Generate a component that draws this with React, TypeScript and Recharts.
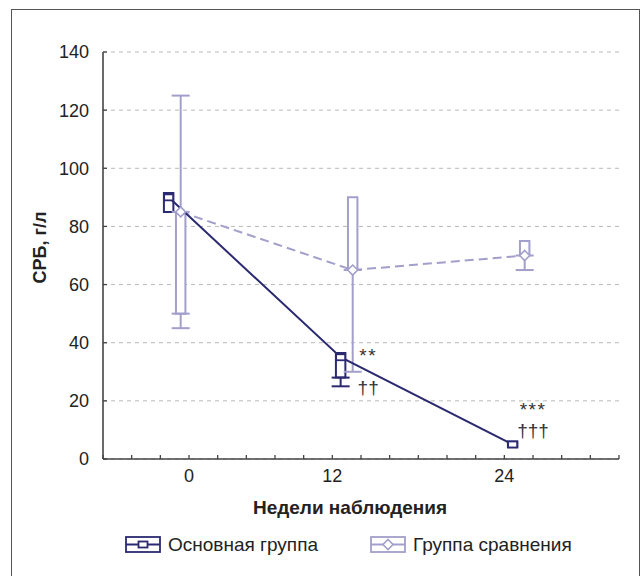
import {
  ComposedChart,
  XAxis,
  YAxis,
  CartesianGrid,
  Line,
  Scatter,
  ErrorBar,
  ReferenceArea,
} from "recharts";

// weeks of observation
const weeks = [0, 12, 24];
// the source prints the week labels on these minor ticks (a bit off the boxes)
const weekLabelTicks = [1, 11, 23];
const weekLabels = ["0", "12", "24"];
const xTicks = [-5, -3, -1, 1, 3, 5, 7, 9, 11, 13, 15, 17, 19, 21, 23, 25, 27, 29, 31];
const yTicks = [0, 20, 40, 60, 80, 100, 120, 140];

// Основная группа
const mainMedian = [90, 35, 5];
const mainQ1 = [85, 28, 4];
const mainQ3 = [91.5, 36.5, 6];
const mainLow = [85, 25, 4];
const mainHigh = [91.5, 36.5, 6];

// Группа сравнения
const compMedian = [85, 65, 70];
const compQ1 = [50, 65, 70];
const compQ3 = [85, 90, 75];
const compLow = [45, 30, 65];
const compHigh = [125, 90, 75];

// significance marks (vs baseline / vs comparison group)
const noteStars = ["**", "***"];
const noteDaggers = ["††", "†††"];

const NAVY = "#2b2a70";
const LAV = "#a29fcb";
const AXIS = "#444";
const FONT = "'Liberation Sans', Arial, Helvetica, sans-serif";
const SHIFT = 0.42; // groups sit either side of the week
const HALF = 0.33; // half box width, weeks

// where the marks are printed: x in weeks, y of the star line, gap to dagger line (em)
const noteLayout = [
  { x: 13.5, y: 33.4, gap: 1.68 },
  { x: 25, y: 14.8, gap: 1.12 },
];

const mainX = weeks.map((w) => w - SHIFT);
const compX = weeks.map((w) => w + SHIFT);

const mainPts = mainX.map((x, i) => ({ x, y: mainMedian[i] }));
const compPts = compX.map((x, i) => ({ x, y: compMedian[i] }));

function whiskers(xs: number[], q1: number[], q3: number[], lo: number[], hi: number[]) {
  const out: { x: number; y: number; err: number[] }[] = [];
  xs.forEach((x, i) => {
    if (hi[i] > q3[i]) out.push({ x, y: q3[i], err: [0, hi[i] - q3[i]] });
    if (lo[i] < q1[i]) out.push({ x, y: q1[i], err: [q1[i] - lo[i], 0] });
  });
  return out;
}

const mainWhiskers = whiskers(mainX, mainQ1, mainQ3, mainLow, mainHigh);
const compWhiskers = whiskers(compX, compQ1, compQ3, compLow, compHigh);
const notes = noteLayout.map((n, i) => ({ ...n, stars: noteStars[i], daggers: noteDaggers[i] }));

const BottomTick = (p: any) => {
  const idx = weekLabelTicks.indexOf(p.payload.value);
  return (
    <g>
      <line x1={p.x} y1={p.y} x2={p.x} y2={p.y - 4} stroke={AXIS} strokeWidth={1.3} />
      {idx >= 0 && (
        <text x={p.x} y={p.y + 22.5} textAnchor="middle" fontSize={18} fontFamily={FONT} fill="#222">
          {weekLabels[idx]}
        </text>
      )}
    </g>
  );
};

const TopTick = (p: any) => (
  <line x1={p.x} y1={p.y} x2={p.x} y2={p.y + 4} stroke={AXIS} strokeWidth={1.3} />
);

const LeftTick = (p: any) => (
  <g>
    <line x1={p.x} y1={p.y} x2={p.x + 4} y2={p.y} stroke={AXIS} strokeWidth={1.3} />
    <text x={p.x - 14} y={p.y} dy="0.36em" textAnchor="end" fontSize={18} fontFamily={FONT} fill="#222">
      {p.payload.value}
    </text>
  </g>
);

const RightTick = (p: any) => (
  <line x1={p.x} y1={p.y} x2={p.x - 4} y2={p.y} stroke={AXIS} strokeWidth={1.3} />
);

const SquareDot = (p: any) => (
  <rect key={`sq-${p.index}`} x={p.cx - 4.5} y={p.cy - 3} width={9} height={6} fill="#fff" stroke={NAVY} strokeWidth={1.8} />
);

const DiamondDot = (p: any) => (
  <polygon
    key={`dm-${p.index}`}
    points={`${p.cx},${p.cy - 5} ${p.cx + 5},${p.cy} ${p.cx},${p.cy + 5} ${p.cx - 5},${p.cy}`}
    fill="#fff"
    stroke={LAV}
    strokeWidth={1.6}
  />
);

const NoteShape = (p: any) => (
  <text x={p.cx} y={p.cy} textAnchor="middle" fontSize={19} fontFamily={FONT} fill="#333">
    <tspan x={p.cx} letterSpacing={1.5}>
      {p.payload.stars}
    </tspan>
    <tspan x={p.cx} dy={`${p.payload.gap}em`}>
      {p.payload.daggers}
    </tspan>
  </text>
);

const YTitle = (p: any) => {
  const vb = p.viewBox;
  const cx = vb.x + 40;
  const cy = vb.y + vb.height / 2 - 8;
  return (
    <text
      x={cx}
      y={cy}
      transform={`rotate(-90, ${cx}, ${cy})`}
      textAnchor="middle"
      dy="0.36em"
      fontSize={18}
      fontWeight="bold"
      fontFamily={FONT}
      fill="#222"
    >
      СРБ, г/л
    </text>
  );
};

const XTitle = (p: any) => {
  const vb = p.viewBox;
  return (
    <text
      x={vb.x + vb.width / 2 - 11}
      y={vb.y + 55}
      textAnchor="middle"
      fontSize={19}
      fontWeight="bold"
      fontFamily={FONT}
      fill="#222"
    >
      Недели наблюдения
    </text>
  );
};

const LegendItem = ({ left, color, label, marker }: any) => (
  <div style={{ position: "absolute", left, top: 534, display: "flex", alignItems: "center" }}>
    <svg width={37} height={20}>
      <rect x={1} y={2} width={34} height={15} fill="#fff" stroke={color} strokeWidth={1.8} />
      <line x1={1} y1={9.5} x2={35} y2={9.5} stroke={color} strokeWidth={1.8} />
      {marker === "square" ? (
        <rect x={13.5} y={6.5} width={9} height={6} fill="#fff" stroke={color} strokeWidth={1.8} />
      ) : (
        <polygon points="18,4.5 23,9.5 18,14.5 13,9.5" fill="#fff" stroke={color} strokeWidth={1.6} />
      )}
    </svg>
    <span style={{ marginLeft: 6, fontSize: 19, fontFamily: FONT, color: "#222", whiteSpace: "nowrap" }}>
      {label}
    </span>
  </div>
);

export default function App() {
  return (
    <div
      style={{
        position: "fixed",
        left: 0,
        top: 0,
        width: 641,
        height: 576,
        background: "#fff",
        overflow: "hidden",
      }}
    >
      <div
        style={{
          position: "absolute",
          left: 11,
          top: 9,
          width: 629,
          height: 580,
          boxSizing: "border-box",
          border: "1.6px solid #555",
        }}
      />
      <ComposedChart width={641} height={576} margin={{ top: 52, right: 22, bottom: 0, left: 0 }}>
        <CartesianGrid vertical={false} strokeDasharray="4 4" stroke="#b9b9b9" />
        <XAxis
          dataKey="x"
          type="number"
          domain={[-5, 31]}
          ticks={xTicks}
          interval={0}
          height={117}
          tickSize={0}
          tickMargin={0}
          tickLine={false}
          tick={<BottomTick />}
          axisLine={{ stroke: AXIS, strokeWidth: 1.6 }}
          label={<XTitle />}
        />
        <XAxis
          xAxisId="top"
          orientation="top"
          type="number"
          domain={[-5, 31]}
          ticks={xTicks}
          interval={0}
          height={0}
          tickSize={0}
          tickMargin={0}
          tickLine={false}
          tick={<TopTick />}
          axisLine={{ stroke: AXIS, strokeWidth: 1.6 }}
        />
        <YAxis
          type="number"
          domain={[0, 140]}
          ticks={yTicks}
          interval={0}
          width={103}
          tickSize={0}
          tickMargin={0}
          tickLine={false}
          tick={<LeftTick />}
          axisLine={{ stroke: AXIS, strokeWidth: 1.6 }}
          label={<YTitle />}
        />
        <YAxis
          yAxisId="right"
          orientation="right"
          type="number"
          domain={[0, 140]}
          ticks={yTicks}
          interval={0}
          width={0}
          tickSize={0}
          tickMargin={0}
          tickLine={false}
          tick={<RightTick />}
          axisLine={{ stroke: AXIS, strokeWidth: 1.6 }}
        />

        {compX.map((x, i) => (
          <ReferenceArea
            key={`cb-${i}`}
            x1={x - HALF}
            x2={x + HALF}
            y1={compQ1[i]}
            y2={compQ3[i]}
            fill="#fff"
            fillOpacity={1}
            stroke={LAV}
            strokeWidth={2}
          />
        ))}
        {mainX.map((x, i) => (
          <ReferenceArea
            key={`mb-${i}`}
            x1={x - HALF}
            x2={x + HALF}
            y1={mainQ1[i]}
            y2={mainQ3[i]}
            fill="#fff"
            fillOpacity={1}
            stroke={NAVY}
            strokeWidth={2}
          />
        ))}

        <Scatter data={compWhiskers} dataKey="y" shape={() => <g />} isAnimationActive={false}>
          <ErrorBar dataKey="err" direction="y" width={9} stroke={LAV} strokeWidth={2} isAnimationActive={false} />
        </Scatter>
        <Scatter data={mainWhiskers} dataKey="y" shape={() => <g />} isAnimationActive={false}>
          <ErrorBar dataKey="err" direction="y" width={9} stroke={NAVY} strokeWidth={2} isAnimationActive={false} />
        </Scatter>

        <Line
          data={compPts}
          dataKey="y"
          type="linear"
          stroke={LAV}
          strokeWidth={2}
          strokeDasharray="9 5"
          dot={DiamondDot}
          activeDot={false}
          isAnimationActive={false}
        />
        <Line
          data={mainPts}
          dataKey="y"
          type="linear"
          stroke={NAVY}
          strokeWidth={2}
          dot={SquareDot}
          activeDot={false}
          isAnimationActive={false}
        />

        <Scatter data={notes} dataKey="y" shape={NoteShape} isAnimationActive={false} />
      </ComposedChart>

      <LegendItem left={125} color={NAVY} label="Основная группа" marker="square" />
      <LegendItem left={370} color={LAV} label="Группа сравнения" marker="diamond" />
    </div>
  );
}
